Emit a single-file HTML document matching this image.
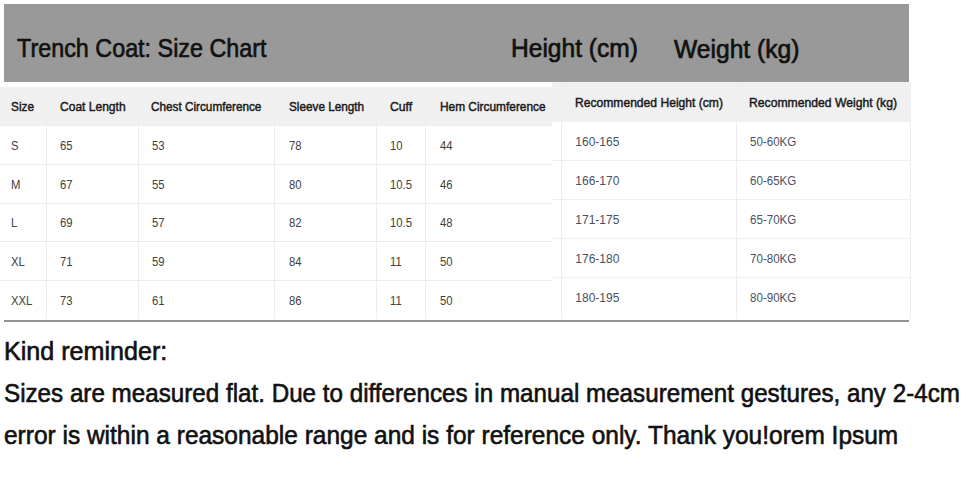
<!DOCTYPE html>
<html>
<head>
<meta charset="utf-8">
<style>
html,body{margin:0;padding:0;background:#fff;width:970px;height:482px;overflow:hidden;position:relative;font-family:"Liberation Sans",Arial,sans-serif;}
.a{position:absolute;white-space:nowrap;}
.band{left:4px;top:4px;width:905px;height:78px;background:#999;}
.t{font-size:26.5px;color:#111;line-height:1;transform-origin:0 0;-webkit-text-stroke:0.65px #111;}
.lt{left:0px;top:87px;width:552px;height:232px;background:#fff;}
.rt{left:552px;top:82px;width:358px;height:235px;background:#fff;}
.hd{background:#f0f0f0;}
.hl{background:#ececec;height:1px;}
.vl{background:#ededed;width:1px;}
.h{font-size:12.5px;font-weight:400;color:#1a1a1a;line-height:1;transform-origin:0 0;-webkit-text-stroke:0.45px #1a1a1a;}
.c{font-size:12px;color:#404040;line-height:1;transform-origin:0 0;transform:scaleX(0.94);}
.r{font-size:12px;color:#4a5163;line-height:1;transform-origin:0 0;}
.b{font-size:25px;color:#111;line-height:1;transform-origin:0 0;-webkit-text-stroke:0.6px #111;}
.line{left:4px;top:320px;width:905px;height:2px;background:#939393;}
</style>
</head>
<body>
<div class="a band"></div>
<div class="a t" id="title" style="left:16.7px;top:34.5px;transform:scaleX(0.881)">Trench Coat: Size Chart</div>
<div class="a t" style="left:511.2px;top:34.7px;transform:scaleX(0.927);-webkit-text-stroke:0.7px #111">Height (cm)</div>
<div class="a t" style="left:674.4px;top:36px;transform:scaleX(0.9295);-webkit-text-stroke:0.7px #111">Weight (kg)</div>

<!-- left table -->
<div class="a lt"></div>
<div class="a hd" style="left:0px;top:87px;width:552px;height:39px;"></div>
<div class="a hl" style="left:0px;top:125px;width:552px;"></div>
<div class="a hl" style="left:0px;top:164px;width:552px;"></div>
<div class="a hl" style="left:0px;top:203px;width:552px;"></div>
<div class="a hl" style="left:0px;top:241px;width:552px;"></div>
<div class="a hl" style="left:0px;top:280px;width:552px;"></div>
<div class="a vl" style="left:46px;top:87px;height:232px;"></div>
<div class="a vl" style="left:138px;top:87px;height:232px;"></div>
<div class="a vl" style="left:274px;top:87px;height:232px;"></div>
<div class="a vl" style="left:376px;top:87px;height:232px;"></div>
<div class="a vl" style="left:425px;top:87px;height:232px;"></div>

<!-- right table -->
<div class="a rt"></div>
<div class="a hd" style="left:552px;top:82px;width:359px;height:40px;border-top-right-radius:4px;"></div>
<div class="a hl" style="left:552px;top:160px;width:359px;background:#efefef"></div>
<div class="a hl" style="left:552px;top:199px;width:359px;background:#efefef"></div>
<div class="a hl" style="left:552px;top:238px;width:359px;background:#efefef"></div>
<div class="a hl" style="left:552px;top:277px;width:359px;background:#efefef"></div>
<div class="a vl" style="left:561px;top:82px;height:237px;"></div>
<div class="a vl" style="left:736px;top:82px;height:237px;"></div>
<div class="a vl" style="left:910px;top:82px;height:237px;"></div>

<div class="a line"></div>

<!-- left header text -->
<div class="a h" style="left:11px;top:101px;transform:scaleX(0.945)">Size</div>
<div class="a h" style="left:60px;top:101px;transform:scaleX(0.963)">Coat Length</div>
<div class="a h" style="left:151px;top:101px;transform:scaleX(0.94)">Chest Circumference</div>
<div class="a h" style="left:288.5px;top:101px;transform:scaleX(0.94)">Sleeve Length</div>
<div class="a h" style="left:390px;top:101px;transform:scaleX(0.977)">Cuff</div>
<div class="a h" style="left:439.5px;top:101px;transform:scaleX(0.95)">Hem Circumference</div>

<!-- right header text -->
<div class="a h" style="left:575px;top:96.8px;transform:scaleX(0.968)">Recommended Height (cm)</div>
<div class="a h" style="left:749.2px;top:96.8px;transform:scaleX(0.974)">Recommended Weight (kg)</div>

<!-- left rows -->
<div class="a c" style="left:11px;top:139.7px;">S</div>
<div class="a c" style="left:59.7px;top:139.7px;">65</div>
<div class="a c" style="left:151.7px;top:139.7px;">53</div>
<div class="a c" style="left:288.7px;top:139.7px;">78</div>
<div class="a c" style="left:389.7px;top:139.7px;">10</div>
<div class="a c" style="left:439.7px;top:139.7px;">44</div>

<div class="a c" style="left:11px;top:178.7px;">M</div>
<div class="a c" style="left:59.7px;top:178.7px;">67</div>
<div class="a c" style="left:151.7px;top:178.7px;">55</div>
<div class="a c" style="left:288.7px;top:178.7px;">80</div>
<div class="a c" style="left:389.7px;top:178.7px;">10.5</div>
<div class="a c" style="left:439.7px;top:178.7px;">46</div>

<div class="a c" style="left:11px;top:216.7px;">L</div>
<div class="a c" style="left:59.7px;top:216.7px;">69</div>
<div class="a c" style="left:151.7px;top:216.7px;">57</div>
<div class="a c" style="left:288.7px;top:216.7px;">82</div>
<div class="a c" style="left:389.7px;top:216.7px;">10.5</div>
<div class="a c" style="left:439.7px;top:216.7px;">48</div>

<div class="a c" style="left:11px;top:255.7px;">XL</div>
<div class="a c" style="left:59.7px;top:255.7px;">71</div>
<div class="a c" style="left:151.7px;top:255.7px;">59</div>
<div class="a c" style="left:288.7px;top:255.7px;">84</div>
<div class="a c" style="left:389.7px;top:255.7px;">11</div>
<div class="a c" style="left:439.7px;top:255.7px;">50</div>

<div class="a c" style="left:11px;top:294.7px;">XXL</div>
<div class="a c" style="left:59.7px;top:294.7px;">73</div>
<div class="a c" style="left:151.7px;top:294.7px;">61</div>
<div class="a c" style="left:288.7px;top:294.7px;">86</div>
<div class="a c" style="left:389.7px;top:294.7px;">11</div>
<div class="a c" style="left:439.7px;top:294.7px;">50</div>

<!-- right rows -->
<div class="a r" style="left:575.3px;top:136px;">160-165</div>
<div class="a r" style="left:749.6px;top:136px;transform:scaleX(0.965);">50-60KG</div>
<div class="a r" style="left:575.3px;top:175px;">166-170</div>
<div class="a r" style="left:749.6px;top:175px;transform:scaleX(0.965);">60-65KG</div>
<div class="a r" style="left:575.3px;top:214px;">171-175</div>
<div class="a r" style="left:749.6px;top:214px;transform:scaleX(0.965);">65-70KG</div>
<div class="a r" style="left:575.3px;top:253px;">176-180</div>
<div class="a r" style="left:749.6px;top:253px;transform:scaleX(0.965);">70-80KG</div>
<div class="a r" style="left:575.3px;top:292px;">180-195</div>
<div class="a r" style="left:749.6px;top:292px;transform:scaleX(0.965);">80-90KG</div>

<!-- bottom text -->
<div class="a b" style="left:4.4px;top:339.2px;transform:scaleX(1.004)">Kind reminder:</div>
<div class="a b" style="left:3.5px;top:381.2px;transform:scaleX(0.968)">Sizes are measured flat. Due to differences in manual measurement gestures, any 2-4cm</div>
<div class="a b" style="left:3.5px;top:423.2px;transform:scaleX(0.979)">error is within a reasonable range and is for reference only. Thank you!orem Ipsum</div>
</body>
</html>
